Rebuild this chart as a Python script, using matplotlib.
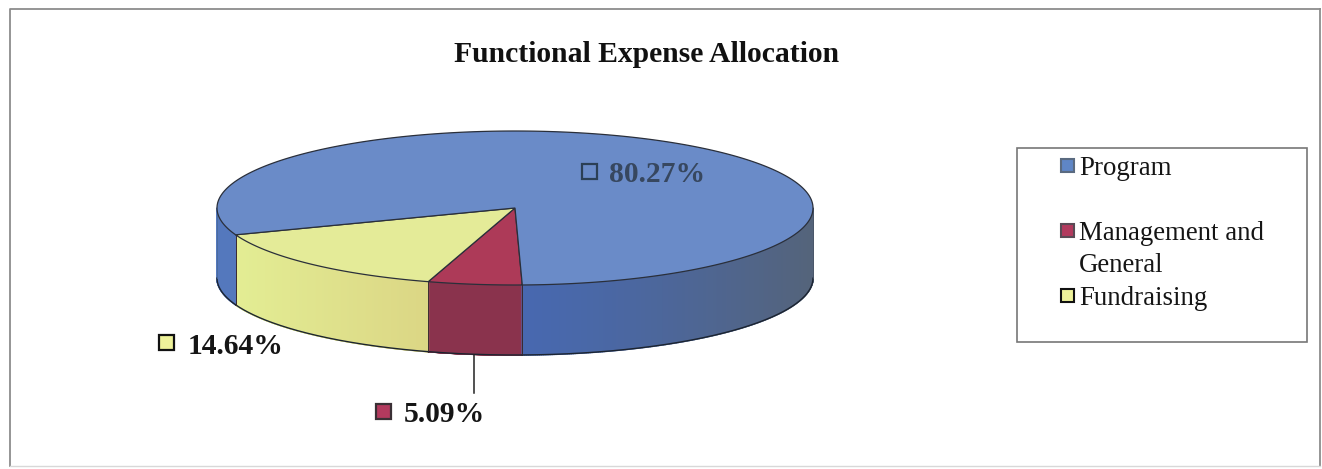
import numpy as np
import matplotlib
matplotlib.use("Agg")
import matplotlib.pyplot as plt
from matplotlib.patches import Rectangle
from matplotlib.collections import PolyCollection

categories = ["Program", "Management and\nGeneral", "Fundraising"]
percents = [80.27, 5.09, 14.64]
percent_labels = ["80.27%", "5.09%", "14.64%"]
title = "Functional Expense Allocation"

top_colors = ["#6a8bc8", "#ad3a58", "#e4eb98"]
key_colors = ["#5f86c6", "#b23a5e", "#eef29a"]

# pie geometry in image pixels
cx, cy, rx, ry, depth = 515, 208, 298, 77, 70
start_angle = -88.6


def arc(a0, a1, n=200):
    t = np.radians(np.linspace(a0, a1, n))
    return cx + rx * np.cos(t), cy - ry * np.sin(t)


def side_color(i, x):
    # shading of the wall, changes with x
    if i == 0:
        if x < cx:
            return (0.33, 0.47, 0.74)
        f = (x - cx) / rx
        c0 = np.array([0.28, 0.41, 0.69])
        c1 = np.array([0.33, 0.39, 0.48])
        return tuple(c0 + (c1 - c0) * f ** 1.3)
    if i == 1:
        return (0.54, 0.20, 0.30)
    f = (x - 236) / (428 - 236)
    c0 = np.array([0.89, 0.93, 0.58])
    c1 = np.array([0.86, 0.84, 0.52])
    return tuple(c0 + (c1 - c0) * f)


fig = plt.figure(figsize=(13.22, 4.69), dpi=100)
ax = fig.add_axes([0, 0, 1, 1])
ax.set_xlim(0, 1322)
ax.set_ylim(469, 0)
ax.axis("off")

plt.rcParams["font.family"] = ["Liberation Serif", "DejaVu Serif"]

# outer frame
ax.plot([10, 10, 1320], [466, 9, 9], color="#8c8c8c", lw=1.3)
ax.plot([1320, 1320], [9, 466], color="#8c8c8c", lw=1.3)
ax.plot([10, 1320], [466, 466], color="#d8d8d8", lw=1.0)

ax.text(647, 54, title, ha="center", va="center", fontsize=21.3, fontweight="bold", color="#111111")

# slices go clockwise from the start angle: red, yellow, then blue
order = [1, 2, 0]
angle = start_angle
spans = {}
for i in order:
    sweep = percents[i] / sum(percents) * 360
    spans[i] = (angle - sweep, angle)
    angle -= sweep

# walls
for i in order:
    a0, a1 = spans[i]
    xs, ys = arc(a0, a1, 700)
    polys, cols = [], []
    for j in range(len(xs) - 1):
        # only the front half of the rim can be seen
        if ys[j] < cy or ys[j + 1] < cy:
            continue
        polys.append([(xs[j], ys[j]), (xs[j + 1], ys[j + 1]),
                      (xs[j + 1], ys[j + 1] + depth), (xs[j], ys[j] + depth)])
        cols.append(side_color(i, xs[j]))
    ax.add_collection(PolyCollection(polys, facecolors=cols, edgecolors=cols, linewidths=1.2, zorder=2))
    rim_y = np.where(ys >= cy, ys + depth, np.nan)
    ax.plot(xs, rim_y, color="#1c2430", lw=1.0, zorder=3)
    # vertical seams between slices
    for a in (a0, a1):
        t = np.radians(a)
        if np.sin(t) < 0:
            x = cx + rx * np.cos(t)
            y = cy - ry * np.sin(t)
            ax.plot([x, x], [y, y + depth], color="#3a2a30", lw=0.6, zorder=3)

# outer wall edges left and right
ax.plot([cx - rx, cx - rx], [cy, cy + depth], color="#4a6a9a", lw=0.6, zorder=3)
ax.plot([cx + rx, cx + rx], [cy, cy + depth], color="#4a5568", lw=0.6, zorder=3)

# top faces
for i in order:
    a0, a1 = spans[i]
    xs, ys = arc(a0, a1, 300)
    ax.fill(np.r_[cx, xs], np.r_[cy, ys], facecolor=top_colors[i], edgecolor="#2a2f3a", lw=0.9, zorder=4)

# leader line for the small slice
ax.plot([474, 474], [355, 393], color="#222222", lw=1.1, zorder=5)

# data labels
label_pos = [(582, 171, 609, "#37475f"), (376, 411, 404, "#151515"), (159, 342, 188, "#151515")]
for i, (kx, ky, tx, tc) in enumerate(label_pos):
    fc = "none" if i == 0 else key_colors[i]
    ec = "#2b3f55" if i == 0 else ("#3a3035" if i == 1 else "#111111")
    ax.add_patch(Rectangle((kx, ky - 7), 15, 15, facecolor=fc, edgecolor=ec, lw=1.6, zorder=6))
    ax.text(tx, ky + 4, percent_labels[i], ha="left", va="center", fontsize=21.3, fontweight="bold", color=tc, zorder=6)

# legend
ax.add_patch(Rectangle((1017, 148), 290, 194, facecolor="white", edgecolor="#777777", lw=1.2))
leg_y = [166, 231, 296]
leg_edge = ["#5a6a80", "#5a4a55", "#111111"]
for i, y in enumerate(leg_y):
    ax.add_patch(Rectangle((1060.5, y - 6.5), 13, 13, facecolor=key_colors[i], edgecolor=leg_edge[i], lw=1.5, zorder=6))
    ax.text(1079, y - 10, categories[i], ha="left", va="top", fontsize=19.4, color="#151515", linespacing=1.38, zorder=6)

fig.savefig("out.png", dpi=100, facecolor="white")
